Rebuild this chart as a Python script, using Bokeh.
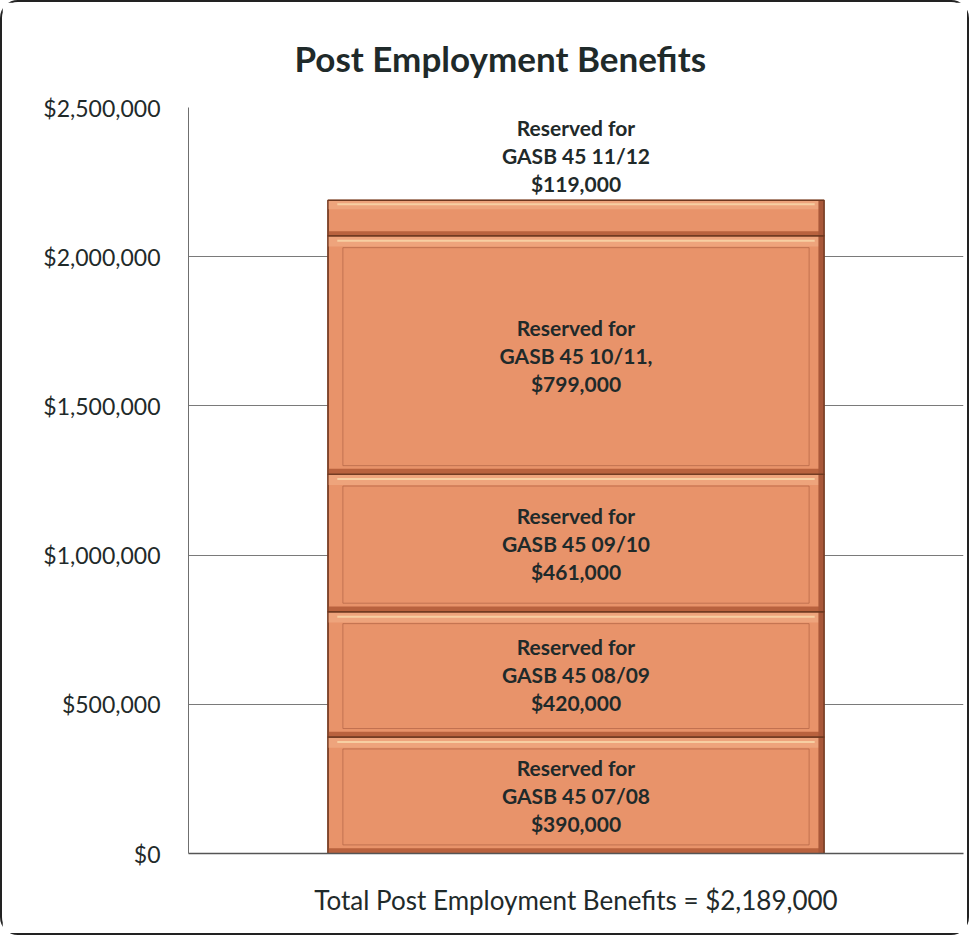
from bokeh.plotting import figure
from bokeh.models import Range1d, FixedTicker, NumeralTickFormatter, ColumnDataSource
from bokeh.core.properties import value
from bokeh.embed import file_html
from bokeh.resources import INLINE

# ---- data ----
title_text = "Post Employment Benefits"
category = "Total Post Employment Benefits = $2,189,000"
segment_labels = [
    "Reserved for\nGASB 45 07/08\n$390,000",
    "Reserved for\nGASB 45 08/09\n$420,000",
    "Reserved for\nGASB 45 09/10\n$461,000",
    "Reserved for\nGASB 45 10/11,\n$799,000",
    "Reserved for\nGASB 45 11/12\n$119,000",
]
segment_values = [390000, 420000, 461000, 799000, 119000]
y_ticks = [0, 500000, 1000000, 1500000, 2000000, 2500000]

# ---- derived geometry ----
FONT = "Lato"
TXT = "#1f2a2a"
bottoms, tops = [], []
acc = 0
for v in segment_values:
    bottoms.append(acc)
    acc += v
    tops.append(acc)
total = acc

xc = 0.5
half = 0.32
left = xc - half
right = xc + half

p = figure(width=969, height=935, output_backend="svg", toolbar_location=None,
           x_range=Range1d(0, 1), y_range=Range1d(0, 2500000),
           min_border_left=186, min_border_right=8, min_border_top=105, min_border_bottom=84,
           background_fill_color="white", border_fill_color="white",
           outline_line_color=None)
p.styles = {"border": "2px solid #222222", "border-radius": "18px", "box-sizing": "border-box"}

p.title.text = title_text
p.title.text_font = FONT
p.title.text_font_size = "35px"
p.title.text_font_style = "bold"
p.title.text_color = TXT
p.title.align = "left"
p.title.offset = 106
p.title.standoff = 57

# axes
p.yaxis.ticker = FixedTicker(ticks=y_ticks)
p.yaxis.formatter = NumeralTickFormatter(format="$0,0")
p.yaxis.major_label_text_font = FONT
p.yaxis.major_label_text_font_size = "23px"
p.yaxis.major_label_text_color = TXT
p.yaxis.major_tick_line_color = None
p.yaxis.minor_tick_line_color = None
p.yaxis.axis_line_color = "#6f6f6f"
p.yaxis.major_label_standoff = 22

p.xaxis.ticker = FixedTicker(ticks=[xc])
p.xaxis.major_label_overrides = {xc: category}
p.xaxis.major_label_text_font = FONT
p.xaxis.major_label_text_font_size = "26px"
p.xaxis.major_label_text_color = TXT
p.xaxis.major_tick_line_color = None
p.xaxis.minor_tick_line_color = None
p.xaxis.axis_line_color = "#555555"
p.xaxis.axis_line_width = 1.5
p.xaxis.major_label_standoff = 24

p.xgrid.grid_line_color = None
p.ygrid.grid_line_color = "#7a7a7a"
p.ygrid.grid_line_width = 1.2

# bar segments
n = len(segment_values)
src = ColumnDataSource(dict(
    left=[left] * n, right=[right] * n, bottom=bottoms, top=tops,
))
p.quad(left="left", right="right", bottom="bottom", top="top", source=src,
       fill_color="#e8936a", line_color="#8a4a2c", line_width=1.5)

# bevel effects (derived from segment extents)
bev = [min(0.25 * v, 36000) for v in segment_values]
dx = 0.012
hl = ColumnDataSource(dict(
    left=[left] * n, right=[right] * n,
    bottom=[t - b for t, b in zip(tops, bev)], top=tops))
p.quad(left="left", right="right", bottom="bottom", top="top", source=hl,
       fill_color="#eea47c", line_color=None)
p.segment(x0=[left + dx] * n, x1=[right - dx] * n,
          y0=[t - b * 0.45 for t, b in zip(tops, bev)],
          y1=[t - b * 0.45 for t, b in zip(tops, bev)],
          line_color="#f7cfa2", line_width=2)
sh = ColumnDataSource(dict(
    left=[left] * n, right=[right] * n,
    bottom=bottoms, top=[b0 + b * 0.5 for b0, b in zip(bottoms, bev)]))
p.quad(left="left", right="right", bottom="bottom", top="top", source=sh,
       fill_color="#b9623e", line_color=None)
rs = ColumnDataSource(dict(
    left=[right - dx * 0.6] * n, right=[right] * n, bottom=bottoms, top=tops))
p.quad(left="left", right="right", bottom="bottom", top="top", source=rs,
       fill_color="#a9583a", line_color=None)
# inner panel outlines
inner_idx = [i for i in range(n) if segment_values[i] > 200000]
p.quad(left=[left + 1.6 * dx] * len(inner_idx),
       right=[right - 1.6 * dx] * len(inner_idx),
       bottom=[bottoms[i] + bev[i] * 0.8 for i in inner_idx],
       top=[tops[i] - bev[i] * 1.1 for i in inner_idx],
       fill_color=None, line_color="#b06444", line_width=1, line_alpha=0.7)
p.quad(left="left", right="right", bottom="bottom", top="top", source=src,
       fill_color=None, line_color="#6e3820", line_width=1.2)

# labels
lab_x = [xc] * n
lab_y = [(b + t) / 2 for b, t in zip(bottoms, tops)]
lab_y[-1] = total + 150000
lsrc = ColumnDataSource(dict(x=lab_x, y=lab_y, text=segment_labels))
p.text(x="x", y="y", text="text", source=lsrc, text_align="center",
       text_baseline="middle", text_font=value(FONT), text_font_style="bold",
       text_font_size="21px", text_color=TXT, text_line_height=1.12)

open("out.html", "w").write(file_html(p, INLINE))
